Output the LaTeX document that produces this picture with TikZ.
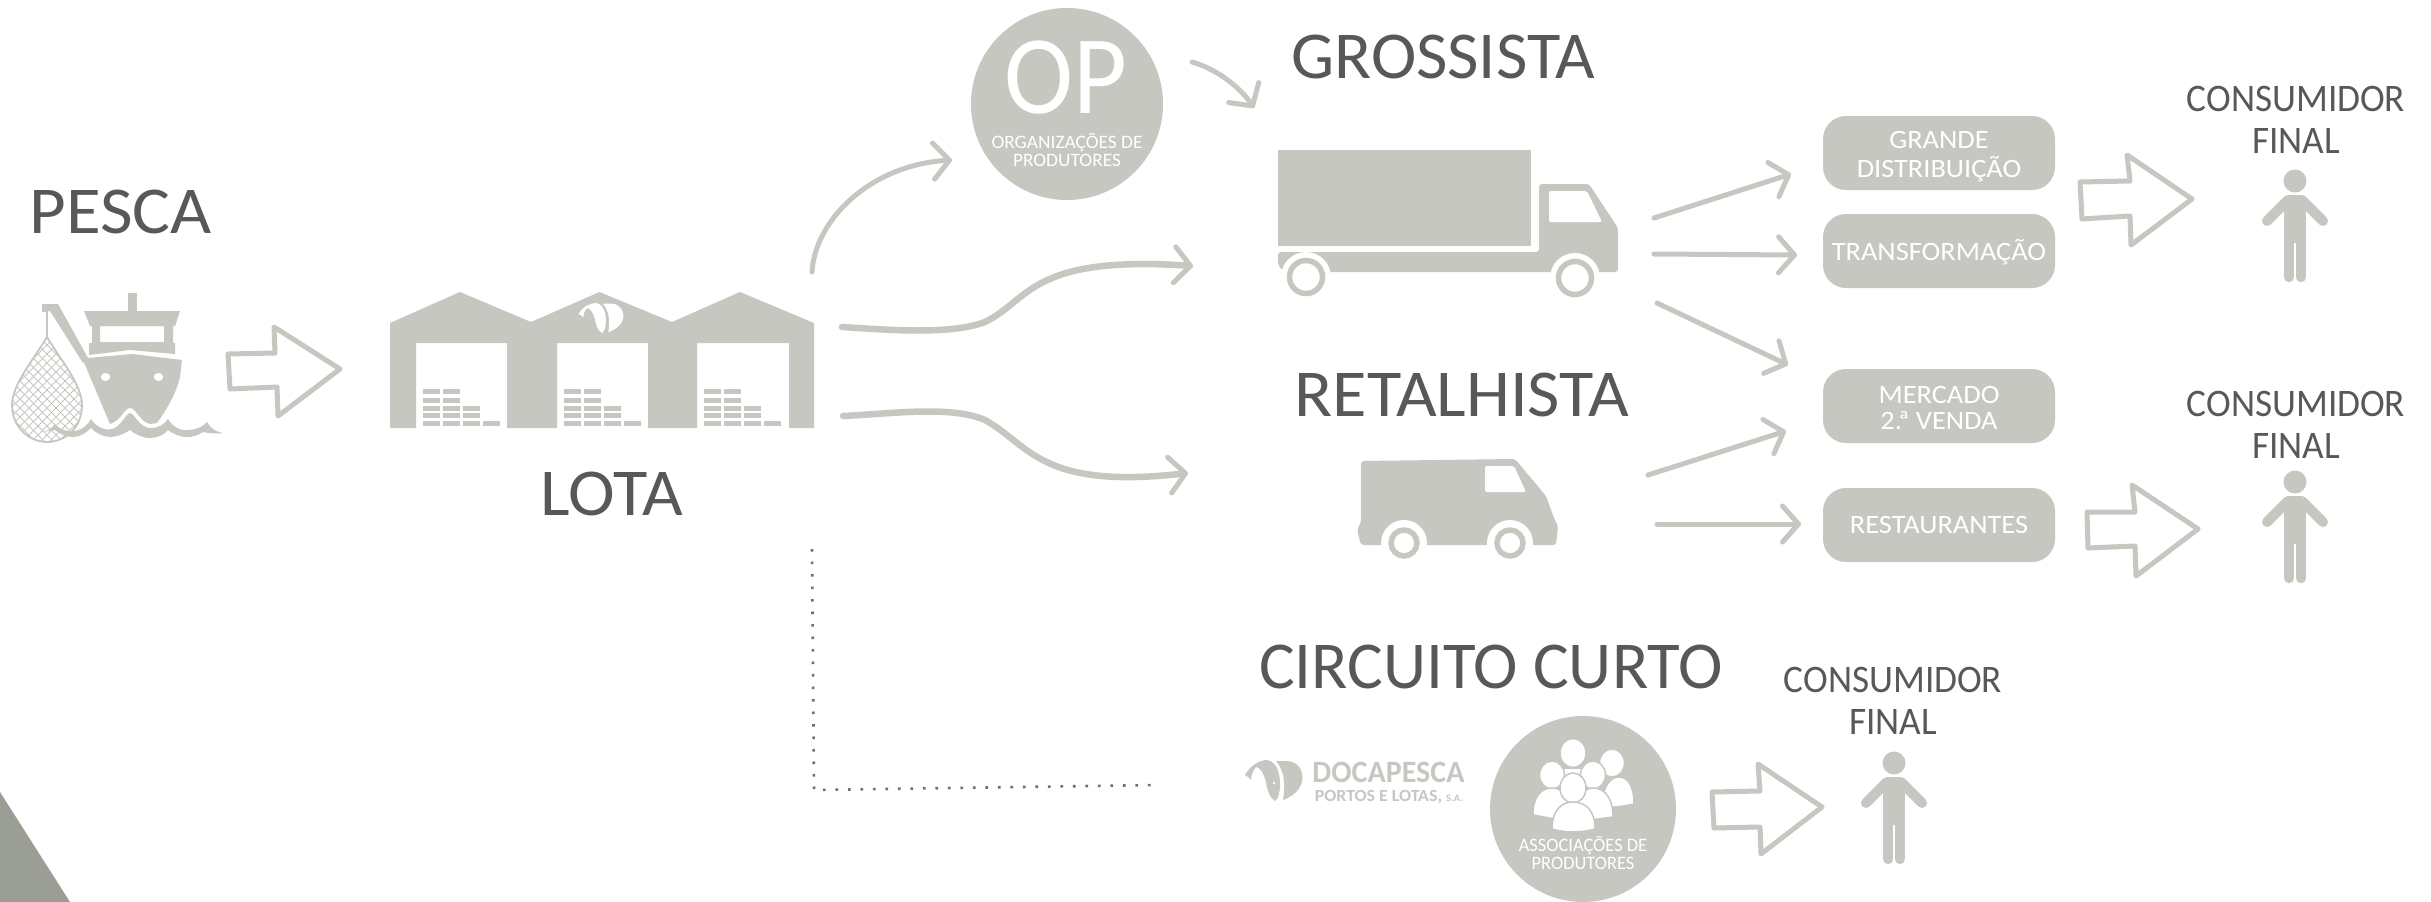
\documentclass[tikz,border=0pt]{standalone}
\usepackage{fontspec}
\setmainfont{Carlito}
\usetikzlibrary{arrows.meta,calc}
\definecolor{gshape}{HTML}{C6C7C1}
\definecolor{ink}{HTML}{58585A}
\definecolor{corner}{HTML}{9A9E95}
\definecolor{dotgrey}{HTML}{6E716B}
\newcommand{\txtfont}[2]{\fontsize{#1}{#2}\selectfont}
\newcommand{\twolines}[2]{\begin{tabular}[b]{@{}c@{}}#1\\#2\end{tabular}}
\tikzset{
  lbl/.style={anchor=base,inner sep=0pt,outer sep=0pt,text=ink},
  whitelbl/.style={lbl,text=white},
  title/.style={lbl,font=\txtfont{67}{67}},
  consumer/.style={lbl,font=\txtfont{39}{42}},
  innerlbl/.style={whitelbl,font=\txtfont{19}{18}},
  pillbox/.style={fill=gshape,rounded corners=23pt,minimum width=232pt,minimum height=74pt,inner sep=0pt,text=white,align=center,font=\txtfont{26.5}{25.5}},
  disc/.style={circle,fill=gshape,inner sep=0pt,minimum size=#1},
  hollow/.style={draw=gshape,line width=5pt,line join=round,fill=white},
  flow/.style={draw=gshape,line width=5pt,line cap=round,-{Straight Barb[length=16pt,width=36pt,line width=5pt,round]}},
  thickflow/.style={flow,line width=6.5pt},
  dots/.style={draw=dotgrey,line width=2.6pt,dash pattern=on 2.6pt off 9.9pt},
  pics/person/.style={code={
    \fill[gshape] (0,12) circle [x radius=11.5,y radius=11.5];
    \draw[gshape,line width=10pt,line cap=round,line join=round] (-28,52) -- (-7,31) -- (7,31) -- (28,52);
    \fill[gshape] (-11,30) rectangle (11,74);
    \draw[gshape,line width=10.5pt,line cap=round] (-5.8,70) -- (-5.8,108);
    \draw[gshape,line width=10.5pt,line cap=round] (5.8,70) -- (5.8,108);
  }},
  pics/fish/.style={code={
    \fill[#1] (2,15) .. controls (8,4) and (18,0) .. (24,0) .. controls (36,2) and (37,18) .. (37,25) .. controls (37,33) and (35,39) .. (32,41) .. controls (27,38) and (24,30) .. (23,22) .. controls (21,14) and (17,7) .. (13,7) .. controls (11,9) and (8,14) .. (8,20) .. controls (7,18) and (4,16) .. (2,15) -- cycle;
    \fill[#1] (33,1) -- (45,1) .. controls (56,2) and (61,12) .. (59,22) .. controls (56,32) and (48,37) .. (40,40) .. controls (42,30) and (43,12) .. (33,1) -- cycle;
  }},
  wheel/.style={draw=gshape,fill=white,line width=5.5pt},
}
\begin{document}
\begin{tikzpicture}[x=1pt,y=-1pt]
\useasboundingbox (0,0) rectangle (2431,902);
\fill[white] (0,0) rectangle (2431,902);
\fill[corner] (0,792) -- (70,902) -- (0,902) -- cycle;

% titles
\node[title] (pesca) at (120.5,233) {\scalebox{1.06}[1]{PESCA}};
\node[title] (lota) at (612,515) {\scalebox{1.05}[1]{LOTA}};
\node[title] (gross) at (1443,78) {\scalebox{1.02}[1]{GROSSISTA}};
\node[title] (retal) at (1462,416) {\scalebox{1.05}[1]{RETALHISTA}};
\node[title] (circ) at (1491,688) {\scalebox{1}[1]{CIRCUITO CURTO}};

% boat
\fill[gshape] (128,293) rectangle (137,311);
\fill[gshape] (84,311) -- (180,311) -- (175,326) -- (90,326) -- cycle;
\fill[gshape,even odd rule] (92,326) rectangle (173,344) (100,326) rectangle (164,342);
\fill[gshape] (89,343) -- (175,343) -- (175,354) -- (130,350) -- (89,355) -- cycle;
\fill[gshape] (83,360) -- (87,358) -- (132,354) -- (182,360) -- (180,377) .. controls (177,390) and (170,405) .. (157,423) -- (150,424) .. controls (140,422) and (136,408) .. (130,408) .. controls (124,408) and (122,420) .. (110,424) -- cycle;
\fill[white] (105.5,377) ellipse [x radius=4.7,y radius=4];
\fill[white] (158.5,377) ellipse [x radius=4.7,y radius=4];
\fill[gshape] (42,304) -- (58,304) -- (88,358) -- (83,363) -- (50,311) -- (42,312) -- cycle;
\draw[gshape,line width=2.5pt] (47,311) -- (47,337);
\begin{scope}
  \clip (47,337) .. controls (32,362) and (12,385) .. (12,405) .. controls (12,428) and (30,442) .. (47,442) .. controls (65,442) and (82,428) .. (82,405) .. controls (82,385) and (62,362) .. (47,337) -- cycle;
  \foreach \k in {-14,...,14} {
    \draw[gshape,line width=.9pt] (47+\k*9-60,390-60) -- (47+\k*9+60,390+60);
    \draw[gshape,line width=.9pt] (47+\k*9+60,390-60) -- (47+\k*9-60,390+60);
  }
\end{scope}
\draw[gshape,line width=1.8pt] (47,337) .. controls (32,362) and (12,385) .. (12,405) .. controls (12,428) and (30,442) .. (47,442) .. controls (65,442) and (82,428) .. (82,405) .. controls (82,385) and (62,362) .. (47,337) -- cycle;
\fill[gshape] (42,432) .. controls (48,431) and (52,428) .. (55,424) .. controls (60,430) and (68,432) .. (75,431) .. controls (82,430) and (88,425) .. (91,419) .. controls (96,427) and (106,431) .. (112,429) .. controls (122,426) and (126,413) .. (130,413) .. controls (134,413) and (140,428) .. (150,428) .. controls (158,428) and (164,425) .. (168,419) .. controls (172,426) and (180,431) .. (187,430) .. controls (195,430) and (203,427) .. (207,422) .. controls (210,428) and (216,432) .. (223,433) .. controls (216,434) and (208,433) .. (203,432) .. controls (197,436) and (192,437) .. (187,437) .. controls (179,437) and (172,433) .. (168,430) .. controls (164,435) and (157,438) .. (150,438) .. controls (142,438) and (135,434) .. (130,430) .. controls (124,434) and (117,437) .. (110,437) .. controls (103,437) and (96,433) .. (91,428) .. controls (86,433) and (80,437) .. (73,437) .. controls (66,437) and (60,434) .. (55,430) -- (42,432) -- cycle;

% hollow arrows
\draw[hollow] (228,354) -- (275,353) -- (274,327) -- (340,369) -- (278,416) -- (277,387) -- (230,389) -- cycle;
\draw[hollow] (2080,182) -- (2130,181) -- (2127,155) -- (2192,199) -- (2131,245) -- (2130,216) -- (2082,219) -- cycle;
\draw[hollow] (2087,512) -- (2135,512) -- (2132,485) -- (2198,529) -- (2136,576) -- (2135,546) -- (2088,548) -- cycle;
\draw[hollow] (1712,792) -- (1760,791) -- (1758,764) -- (1822,807) -- (1761,854) -- (1760,827) -- (1714,828) -- cycle;

% warehouse
\fill[gshape] (390,323) -- (460,292) -- (531,322) -- (599.5,292) -- (672,322) -- (740,292) -- (814,323) -- (814,428) -- (789,428) -- (789,343) -- (697,343) -- (697,428) -- (648,428) -- (648,343) -- (557,343) -- (557,428) -- (507,428) -- (507,343) -- (416,343) -- (416,428) -- (390,428) -- cycle;
\foreach \dx in {423,564,704} {
  \foreach \c/\rows in {0/{389,398,406,413,421},20/{389,398,406,413,421},40/{406,413,421},60/{421}} {
    \foreach \r in \rows {
      \fill[gshape] (\dx+\c,\r) rectangle ++(17,5);
    }
  }
}
\pic[yscale=.73,xscale=.78] at (577,303) {fish=white};

% discs
\node[disc=192pt] (op) at (1067,104) {};
\node[disc=186pt] (assoc) at (1583,809) {};
\node[whitelbl,font=\txtfont{112}{112}] (oplabel) at (1065.5,113) {\scalebox{.93}[1]{OP}};
\node[innerlbl] (orglabel) at (1067,166) {\scalebox{1.02}[1]{\twolines{ORGANIZAÇÕES DE}{PRODUTORES}}};
\node[innerlbl] (asslabel) at (1583,869) {\scalebox{.97}[1]{\twolines{ASSOCIAÇÕES DE}{PRODUTORES}}};

% group of people
\begin{scope}[draw=gshape,fill=white,line width=1.5pt]
  \filldraw (1612,763) ellipse [x radius=12.5,y radius=14];
  \filldraw (1602,807) .. controls (1602,785) and (1612,776) .. (1620,777) .. controls (1630,778) and (1634,790) .. (1634,804) .. controls (1625,806) and (1612,808) .. (1602,807) -- cycle;
  \filldraw (1573,753) ellipse [x radius=13,y radius=14.5];
  \filldraw (1561,800) -- (1561,768) -- (1586,768) -- (1586,800) -- cycle;
  \filldraw (1552,775) ellipse [x radius=12.5,y radius=14];
  \filldraw (1533,815) .. controls (1533,798) and (1540,788) .. (1552,788) .. controls (1565,788) and (1572,800) .. (1572,822) -- cycle;
  \filldraw (1593,775) ellipse [x radius=12.5,y radius=14];
  \filldraw (1574,822) .. controls (1574,800) and (1582,788) .. (1593,788) .. controls (1606,788) and (1613,800) .. (1613,817) -- cycle;
  \filldraw (1573,788) ellipse [x radius=13,y radius=15];
  \filldraw (1552,829) .. controls (1552,812) and (1560,802) .. (1573,802) .. controls (1587,802) and (1595,812) .. (1595,829) .. controls (1580,833) and (1566,833) .. (1552,829) -- cycle;
\end{scope}

% truck
\node[fill=gshape,inner sep=0pt,minimum width=253pt,minimum height=96pt] (truck) at (1404.5,198) {};
\fill[gshape,rounded corners=3pt] (1539,252) -- (1539,184) -- (1589,184) -- (1618,228) -- (1618,272) -- (1290,272) .. controls (1282,272) and (1278,265) .. (1278,260) -- (1278,252) -- cycle;
\fill[white,rounded corners=2pt] (1549,191) -- (1587,191) -- (1602,222) -- (1549,222) -- cycle;
\fill[white] (1306,277) circle [radius=25];
\fill[white] (1575,278) circle [radius=25];
\draw[wheel] (1306,277) circle [radius=16.5];
\draw[wheel] (1575,278) circle [radius=16.5];

% van
\fill[gshape,rounded corners=3pt] (1361,545) -- (1357,530) -- (1361,522) -- (1361,461) -- (1515,459) -- (1546,496) -- (1554,518) -- (1558,526) -- (1556,545) -- cycle;
\fill[white,rounded corners=2pt] (1485,466) -- (1514,466) -- (1526,492) -- (1485,492) -- cycle;
\fill[white] (1404,543) circle [radius=23];
\fill[white] (1510,543) circle [radius=23];
\draw[wheel] (1404,543) circle [radius=13];
\draw[wheel] (1510,543) circle [radius=13];

% pill boxes
\node[pillbox,text height=48pt,text depth=0pt] (gd) at (1939,153) {\scalebox{1.07}[1]{\twolines{GRANDE}{DISTRIBUIÇÃO}}};
\node[pillbox,text height=18pt,text depth=0pt] (tr) at (1939,251) {\scalebox{1.07}[1]{TRANSFORMAÇÃO}};
\node[pillbox,text height=47pt,text depth=0pt] (mv) at (1939,406) {\scalebox{1.07}[1]{\twolines{MERCADO}{2.\kern-3.5ptª VENDA}}};
\node[pillbox,text height=17pt,text depth=0pt] (re) at (1939,525) {\scalebox{1.07}[1]{RESTAURANTES}};

% consumers
\node[consumer] (c1) at (2296,153) {\scalebox{.955}[1]{\twolines{CONSUMIDOR}{FINAL}}};
\node[consumer] (c2) at (2296,458) {\scalebox{.955}[1]{\twolines{CONSUMIDOR}{FINAL}}};
\node[consumer] (c3) at (1893,734) {\scalebox{.955}[1]{\twolines{CONSUMIDOR}{FINAL}}};
\pic at (2295,169) {person};
\pic at (2295,470) {person};
\pic at (1894,751) {person};

% docapesca
\pic at (1243,760) {fish=gshape};
\fill[white] (1274,783) ellipse [x radius=1.2,y radius=1.5];
\node[lbl,text=gshape,font=\bfseries\txtfont{31}{31}] (doca) at (1388.5,782) {\scalebox{.97}[1]{DOCAPESCA}};
\node[lbl,text=gshape,font=\bfseries\txtfont{17}{17}] (portos) at (1389,801) {\scalebox{1.05}[1]{PORTOS E LOTAS, {\txtfont{10}{10}S.A.}}};

% connectors
\coordinate (a1s) at (1654,218); \coordinate (a1e) at (1791,174);
\coordinate (a2s) at (1654,254); \coordinate (a2e) at (1797,255);
\coordinate (a3s) at (1657,303); \coordinate (a3e) at (1788,365);
\coordinate (a4s) at (1648,475); \coordinate (a4e) at (1786,431);
\coordinate (a5s) at (1657,524); \coordinate (a5e) at (1801,524);
\draw[flow] (a1s) -- (a1e);
\draw[flow] (a2s) -- (a2e);
\draw[flow] (a3s) -- (a3e);
\draw[flow] (a4s) -- (a4e);
\draw[flow] (a5s) -- (a5e);
\coordinate (c1s) at (812,272); \coordinate (c1e) at (952,160);
\coordinate (c2s) at (1192,62); \coordinate (c2e) at (1254,108);
\coordinate (c3s) at (842,327); \coordinate (c3e) at (1193,266);
\coordinate (c4s) at (843,416); \coordinate (c4e) at (1188,473);
\draw[flow] (c1s) .. controls (815,220) and (870,165) .. (c1e);
\draw[flow] (c2s) .. controls (1220,70) and (1242,90) .. (c2e);
\draw[thickflow] (c3s) .. controls (890,330) and (950,335) .. (985,322) .. controls (1030,300) and (1030,255) .. (c3e);
\draw[thickflow] (c4s) .. controls (890,414) and (950,405) .. (985,420) .. controls (1030,445) and (1040,490) .. (c4e);
\coordinate (d1) at (812,549); \coordinate (d2) at (814,790); \coordinate (d3) at (1158,785);
\draw[dots] (d1) -- (d2) -- (d3);
\end{tikzpicture}
\end{document}
